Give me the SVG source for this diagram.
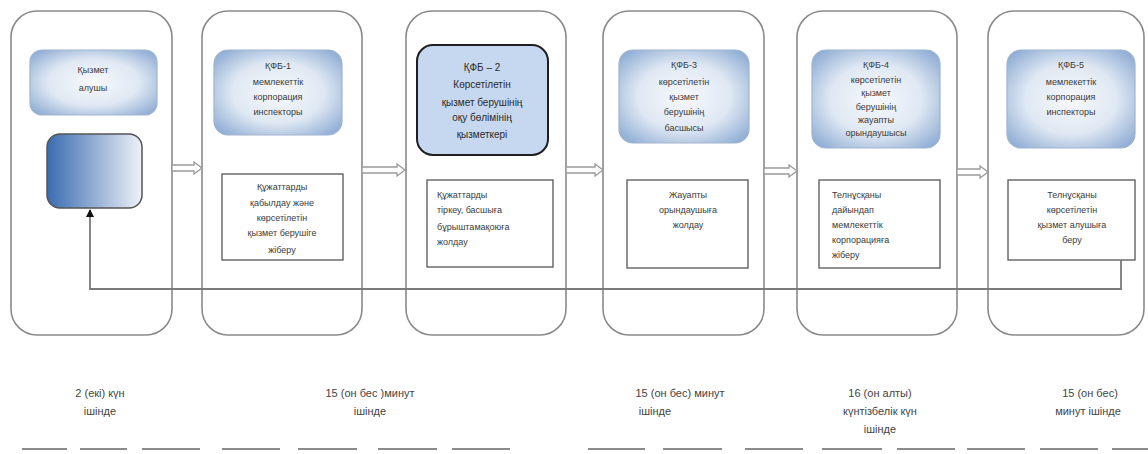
<svg xmlns="http://www.w3.org/2000/svg" width="1148" height="454" viewBox="0 0 1148 454">
<defs>
<radialGradient id="hg" cx="50%" cy="50%" r="65%">
<stop offset="0" stop-color="#f7f9fc"/>
<stop offset="0.55" stop-color="#dfe8f3"/>
<stop offset="1" stop-color="#8fadd4"/>
</radialGradient>
<linearGradient id="dg" x1="0" y1="0" x2="1" y2="0">
<stop offset="0" stop-color="#3a6bb0"/>
<stop offset="1" stop-color="#eef2f8"/>
</linearGradient>
<marker id="ah" markerWidth="8" markerHeight="8" refX="7" refY="4" orient="auto" markerUnits="userSpaceOnUse" viewBox="0 0 8 8">
<path d="M0,0 L8,4 L0,8 Z" fill="#111"/>
</marker>
</defs>
<style>
.col{fill:#fff;stroke:#8a8a8a;stroke-width:1.6}
.hdr{fill:url(#hg);stroke:#9fb4d0;stroke-width:1.2}
.desc{fill:#fff;stroke:#555;stroke-width:1.3}
.t{font-family:"Liberation Sans",Arial,sans-serif;font-size:9px;fill:#3a3a3a;text-anchor:middle}
.tl{font-family:"Liberation Sans",Arial,sans-serif;font-size:9px;fill:#3a3a3a}
.t3{font-family:"Liberation Sans",Arial,sans-serif;font-size:10px;fill:#2a2a2a;text-anchor:middle}
.b{font-family:"Liberation Sans",Arial,sans-serif;font-size:11px;fill:#444;text-anchor:middle}
.arr{fill:#fff;stroke:#9a9a9a;stroke-width:1.3}
.dash{stroke:#8c8c8c;stroke-width:2}
</style>

<g id="col1">
<rect class="col" x="11" y="11" width="161" height="324" rx="26"/>
<rect class="hdr" x="30" y="50" width="127" height="65" rx="12"/>
<text class="t" x="93" y="73" font-size="10">Қызмет</text>
<text class="t" x="93" y="91" font-size="10">алушы</text>
<rect x="47" y="134" width="95" height="74" rx="13" fill="url(#dg)" stroke="#555" stroke-width="1.5"/>
</g>

<g id="col2">
<rect class="col" x="202" y="11" width="160" height="324" rx="26"/>
<rect class="hdr" x="214" y="50" width="128" height="85" rx="14"/>
<text class="t" x="278" y="69">ҚФБ-1</text>
<text class="t" x="278" y="85">мемлекеттік</text>
<text class="t" x="278" y="100">корпорация</text>
<text class="t" x="278" y="115">инспекторы</text>
<rect class="desc" x="222" y="174" width="121" height="86"/>
<text class="t" x="282" y="190">Құжаттарды</text>
<text class="t" x="282" y="206">қабылдау және</text>
<text class="t" x="282" y="221">көрсетілетін</text>
<text class="t" x="282" y="236">қызмет берушіге</text>
<text class="t" x="282" y="253">жіберу</text>
</g>

<g id="col3">
<rect class="col" x="406" y="11" width="160" height="324" rx="26"/>
<rect x="417" y="45" width="131" height="110" rx="16" fill="#c6d8f0" stroke="#1e1e1e" stroke-width="2"/>
<text class="t3" x="482" y="71">ҚФБ – 2</text>
<text class="t3" x="482" y="88">Көрсетілетін</text>
<text class="t3" x="482" y="106">қызмет берушінің</text>
<text class="t3" x="482" y="121">оқу бөлімінің</text>
<text class="t3" x="482" y="138">қызметкері</text>
<rect class="desc" x="427" y="180" width="126" height="87"/>
<text class="tl" x="437" y="198">Құжаттарды</text>
<text class="tl" x="437" y="213">тіркеу, басшыға</text>
<text class="tl" x="437" y="230">бұрыштамақоюға</text>
<text class="tl" x="437" y="245">жолдау</text>
</g>

<g id="col4">
<rect class="col" x="603" y="11" width="161" height="324" rx="26"/>
<rect class="hdr" x="619" y="50" width="130" height="93" rx="14"/>
<text class="t" x="684" y="68">ҚФБ-3</text>
<text class="t" x="684" y="85">көрсетілетін</text>
<text class="t" x="684" y="100">қызмет</text>
<text class="t" x="684" y="115">берушінің</text>
<text class="t" x="684" y="131">басшысы</text>
<rect class="desc" x="627" y="180" width="121" height="88"/>
<text class="t" x="688" y="198">Жауапты</text>
<text class="t" x="688" y="213">орындаушыға</text>
<text class="t" x="688" y="228">жолдау</text>
</g>

<g id="col5">
<rect class="col" x="797" y="11" width="160" height="324" rx="26"/>
<rect class="hdr" x="812" y="50" width="128" height="98" rx="14"/>
<text class="t" x="876" y="68">ҚФБ-4</text>
<text class="t" x="876" y="83">көрсетілетін</text>
<text class="t" x="876" y="96">қызмет</text>
<text class="t" x="876" y="110">берушінің</text>
<text class="t" x="876" y="123">жауапты</text>
<text class="t" x="876" y="136">орындаушысы</text>
<rect class="desc" x="819" y="180" width="121" height="88"/>
<text class="tl" x="832" y="198">Телнұсқаны</text>
<text class="tl" x="832" y="213">дайындап</text>
<text class="tl" x="832" y="228">мемлекеттік</text>
<text class="tl" x="832" y="243">корпорацияға</text>
<text class="tl" x="832" y="258">жіберу</text>
</g>

<g id="col6">
<rect class="col" x="988" y="11" width="156" height="324" rx="26"/>
<rect class="hdr" x="1007" y="50" width="128" height="98" rx="14"/>
<text class="t" x="1071" y="68">ҚФБ-5</text>
<text class="t" x="1071" y="85">мемлекеттік</text>
<text class="t" x="1071" y="100">корпорация</text>
<text class="t" x="1071" y="115">инспекторы</text>
<rect class="desc" x="1008" y="180" width="127" height="80"/>
<text class="t" x="1072" y="198">Телнұсқаны</text>
<text class="t" x="1072" y="213">көрсетілетін</text>
<text class="t" x="1072" y="228">қызмет алушыға</text>
<text class="t" x="1072" y="243">беру</text>
</g>

<g id="connectors">
<path class="arr" d="M172,165 H194 V162 L202,168 L194,174 V171 H172 Z"/>
<path class="arr" d="M362,167 H397 V164 L405,170 L397,176 V173 H362 Z"/>
<path class="arr" d="M566,167 H595 V164 L603,170 L595,176 V173 H566 Z"/>
<path class="arr" d="M764,168 H789 V165 L797,171 L789,177 V174 H764 Z"/>
<path class="arr" d="M957,169 H980 V166 L988,172 L980,178 V175 H957 Z"/>
<polyline points="1121,260 1121,289 90,289 90,210" fill="none" stroke="#7a7a7a" stroke-width="1.8" marker-end="url(#ah)"/>
</g>

<g id="times">
<text class="b" x="100" y="397">2 (екі) күн</text>
<text class="b" x="100" y="415">ішінде</text>
<text class="b" x="370" y="397">15 (он бес )минут</text>
<text class="b" x="370" y="415">ішінде</text>
<text class="b" x="680" y="397">15 (он бес) минут</text>
<text class="b" x="655" y="415">ішінде</text>
<text class="b" x="880" y="397">16 (он алты)</text>
<text class="b" x="880" y="415">күнтізбелік күн</text>
<text class="b" x="880" y="433">ішінде</text>
<text class="b" x="1090" y="397">15 (он бес)</text>
<text class="b" x="1088" y="415">минут ішінде</text>
</g>

<g id="dashes">
<line class="dash" x1="22" y1="449" x2="67" y2="449"/>
<line class="dash" x1="80" y1="449" x2="127" y2="449"/>
<line class="dash" x1="142" y1="449" x2="200" y2="449"/>
<line class="dash" x1="222" y1="449" x2="280" y2="449"/>
<line class="dash" x1="298" y1="449" x2="357" y2="449"/>
<line class="dash" x1="378" y1="449" x2="437" y2="449"/>
<line class="dash" x1="452" y1="449" x2="510" y2="449"/>
<line class="dash" x1="588" y1="449" x2="645" y2="449"/>
<line class="dash" x1="663" y1="449" x2="722" y2="449"/>
<line class="dash" x1="745" y1="449" x2="803" y2="449"/>
<line class="dash" x1="822" y1="449" x2="882" y2="449"/>
<line class="dash" x1="897" y1="449" x2="955" y2="449"/>
<line class="dash" x1="967" y1="449" x2="1025" y2="449"/>
<line class="dash" x1="1040" y1="449" x2="1098" y2="449"/>
<line class="dash" x1="1112" y1="449" x2="1148" y2="449"/>
</g>
</svg>
